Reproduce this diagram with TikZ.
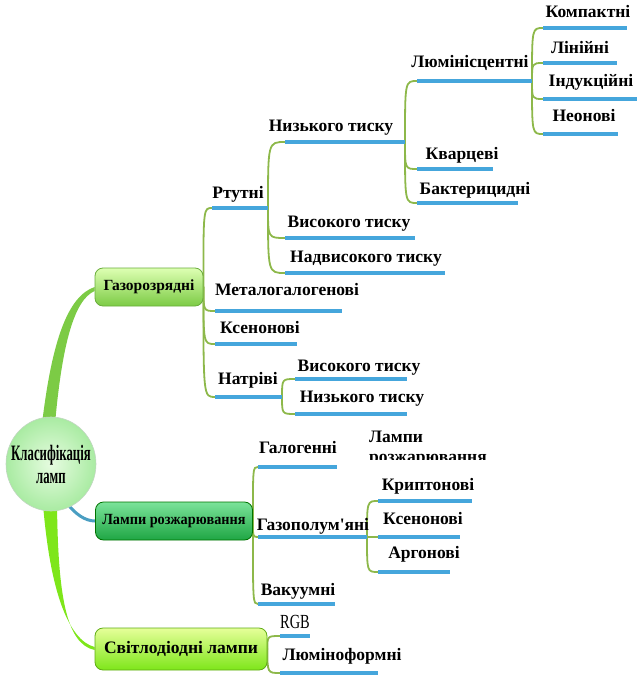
\documentclass[tikz,border=0pt]{standalone}
\usepackage{fontspec}
\setmainfont{Liberation Serif}
\newfontfamily\aposfont{Liberation Serif}[Ligatures=TeXOff]
\usepackage{graphicx}
\usetikzlibrary{shapes.geometric,backgrounds,calc}
\definecolor{cTwig}  {HTML}{8DB84A}
\definecolor{cLine}  {HTML}{45A6DC}
\definecolor{cStemA} {HTML}{7CCB45}
\definecolor{cStemB} {HTML}{7EE61A}
\definecolor{cStemC} {HTML}{4A9EC2}
\definecolor{cRootIn}{HTML}{E6FCE0}
\definecolor{cRootOut}{HTML}{A9EBA2}
\definecolor{cIncTop}{HTML}{7BE39A}
\definecolor{cIncBot}{HTML}{1FA644}

\begin{document}
\begin{tikzpicture}[
  x=1pt, y=-1pt,
  leaf/.style={font=\bfseries\fontsize{17.5}{19}\selectfont, inner sep=0pt,
    text height=12pt, text depth=4pt},
  uline/.style={draw=cLine, line width=3.2pt},
  twig/.style={draw=cTwig, line width=1.8pt, line cap=round},
  mainbox/.style={rounded corners=8pt, line width=0.8pt, align=center,
    font=\bfseries\fontsize{15.5}{17}\selectfont, inner sep=2pt},
  gasbox/.style={mainbox, draw=cStemA!85!black, top color=green!25!lime!30, bottom color=cStemA,
    minimum width=108pt, minimum height=38pt},
  incbox/.style={mainbox, draw=green!45!black, top color=cIncTop, bottom color=cIncBot,
    minimum width=157pt, minimum height=38pt},
  ledbox/.style={mainbox, draw=cStemB!75!black, top color=lime!40, bottom color=cStemB,
    minimum width=172pt, minimum height=42pt, font=\bfseries\fontsize{17.5}{19}\selectfont},
  root/.style={ellipse, draw=green!20!gray!40, line width=0.6pt, inner color=cRootIn, outer color=cRootOut,
    minimum width=90pt, minimum height=94pt, align=center, inner sep=-12pt,
    font=\bfseries\fontsize{22}{23}\selectfont},
]
\useasboundingbox (0,0) rectangle (637,677);

% ---------------------------------------------------------------- root and main boxes
\node[root] (root) at (51,464) {\scalebox{0.58}[1]{Класифікація}\\\scalebox{0.58}[1]{ламп}};

\node[gasbox] (gas) at (149,287) {Газорозрядні};
\node[incbox] (inc) at (174,521) {\scalebox{0.92}[1]{Лампи розжарювання}};
\node[ledbox] (led) at (181,649) {Світлодіодні лампи};

\coordinate (gas-b) at (gas.east);
\coordinate (inc-b) at (inc.east);
\coordinate (led-b) at (led.east);

% ---------------------------------------------------------------- topics (text + underline)
\foreach \nm/\txt/\tx/\ty/\xa/\xb/\ly in {
    rtut/Ртутні/238/194/212/268/208,
    metal/Металогалогенові/287/291/215/342/311,
    xenA/Ксенонові/260/329/215/297/344,
    natr/Натріві/248/380/215/282/397,
    nyzA/Низького тиску/331/127/285/405/142,
    vysA/Високого тиску/349/223/285/415/238,
    nadv/Надвисокого тиску/366/258/285/445/273,
    lum/Люмінісцентні/470/63/417/532/81,
    kvar/Кварцеві/462/155/417/493/169,
    bakt/Бактерицидні/475/190/417/518/203,
    komp/Компактні/588/14/543/627/28,
    lin/Лінійні/580/50/543/617/63,
    ind/Індукційні/591/82/543/637/99,
    neon/Неонові/584/117/543/618/134,
    vysB/Високого тиску/359/367/295/407/379,
    nyzB/Низького тиску/362/398/295/407/414,
    hal/Галогенні/298/449/258/337/467,
    gaz/Газополум{\aposfont'}яні/313/526/258/367/537,
    vak/Вакуумні/298/591/258/335/604,
    kryp/Криптонові/428/486/378/472/501,
    xenB/Ксенонові/423/520/378/460/537,
    arg/Аргонові/424/554/378/450/572,
    lumf/Люміноформні/342/656/280/378/673}
{
  \node[leaf] (\nm) at (\tx,\ty) {\txt};
  \coordinate (\nm-a) at (\xa,\ly);
  \coordinate (\nm-b) at (\xb,\ly);
  \draw[uline] (\nm-a) -- (\nm-b);
}

% RGB is set in a plain narrow face
\node[leaf, font=\fontsize{20}{21}\selectfont] (rgb) at (295,624) {\scalebox{0.72}[1]{RGB}};
\coordinate (rgb-a) at (280,636);
\coordinate (rgb-b) at (310,636);
\draw[uline] (rgb-a) -- (rgb-b);

% stray label, cut off at the bottom
\begin{scope}
  \clip (360,425) rectangle (500,459);
  \node[leaf] (stray1) at (396,438) {Лампи};
  \node[leaf] (stray2) at (428,458) {розжарювання};
\end{scope}

% ---------------------------------------------------------------- connectors
\begin{scope}[on background layer]
  \foreach \p/\c in {gas/rtut, gas/metal, gas/xenA, gas/natr,
      rtut/nyzA, rtut/vysA, rtut/nadv,
      nyzA/lum, nyzA/kvar, nyzA/bakt,
      lum/komp, lum/lin, lum/ind, lum/neon,
      natr/vysB, natr/nyzB,
      inc/hal, inc/gaz, inc/vak,
      gaz/kryp, gaz/xenB, gaz/arg,
      led/rgb, led/lumf}
    \draw[twig] (\p-b) .. controls (\p-b |- \c-a) .. (\c-a);

  % thick stems out of the root
  \fill[cStemA] ($(root.center)+(-9,-40)$) .. controls (52,340) and (68,296) .. (gas.west)
    -- ([yshift=-4pt]gas.west) .. controls (74,300) and (62,345) .. ($(root.center)+(4,-40)$) -- cycle;
  \fill[cStemB] ($(root.center)+(-8,40)$) .. controls (50,590) and (68,640) .. ([yshift=2pt]led.west)
    -- ([yshift=-1pt]led.west) .. controls (66,644) and (58,595) .. ($(root.center)+(6,40)$) -- cycle;
  \draw[cStemC, line width=3pt] ($(root.center)+(15,38)$) .. controls (75,514) and (85,521) .. (inc.west);
\end{scope}

\end{tikzpicture}
\end{document}
